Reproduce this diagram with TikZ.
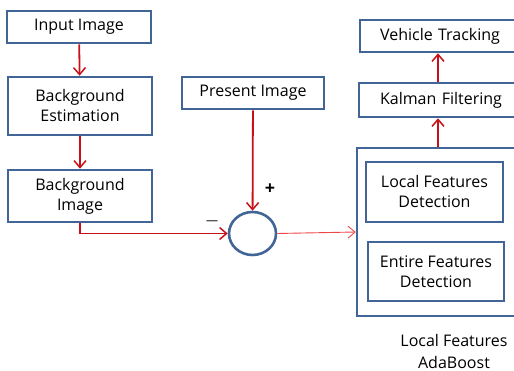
\documentclass[tikz,border=0pt]{standalone}
\usepackage{fontspec}
\setmainfont{Open Sans}
\usetikzlibrary{arrows.meta,shapes.geometric}
\definecolor{boxblue}{RGB}{65,101,150}
\definecolor{flowred}{RGB}{200,16,24}
\definecolor{thinred}{RGB}{240,70,70}
\tikzset{
	block/.style={draw=boxblue, line width=2.6pt, rectangle, align=center, font=\fontsize{16}{20}\selectfont},
	flow/.style={draw=flowred, line width=1.8pt, -{Straight Barb[length=7pt,width=12pt,line width=1.5pt]}},
}

\begin{document}
\begin{tikzpicture}[x=1pt,y=-1pt]
		\useasboundingbox (0,0) rectangle (514,371);
		\clip (0,0) rectangle (514,371);
		\node[block, minimum width=144pt, minimum height=32pt] (input) at (79,27) {Input Image};
		\node[block, minimum width=144pt, minimum height=58pt] (bgest) at (80,106) {Background\\Estimation};
		\node[block, minimum width=144pt, minimum height=52pt] (bgimg) at (80,196) {Background\\Image};
		\node[block, minimum width=142pt, minimum height=32pt] (present) at (253,93) {Present Image};
		\node[ellipse, draw=boxblue, line width=2.6pt, minimum width=47pt, minimum height=43pt] (sum) at (252.5,233.5) {};
		\node (plus) at (270,189) {\fontsize{18}{18}\selectfont\textbf{+}};
		\node (minus) at (212,223) {\fontsize{12}{12}\selectfont —};
		
		\node[block, minimum width=160pt, minimum height=32pt, text width=150pt] (vehicle) at (440,36) {Vehicle Tracking};
		\node[block, minimum width=164pt, minimum height=34pt, text width=150pt] (kalman) at (441,100) {Kalman Filtering};
		\node[draw=boxblue, line width=2.6pt, minimum width=162pt, minimum height=168pt] (adaboost) at (438,232) {};
		\node[block, minimum width=137pt, minimum height=60pt] (local) at (434.5,192) {Local Features\\Detection};
		\node[block, minimum width=136pt, minimum height=59pt] (entire) at (436,271.5) {Entire Features\\Detection};
		\node[align=center, font=\fontsize{16}{22}\selectfont] (caption) at (454,351) {Local Features\\AdaBoost};
		
		\draw[flow] (input) -- (bgest);
		\draw[flow] (bgest) -- (bgimg);
		\draw[flow] (bgimg.south) |- (sum.west);
		\draw[flow] (present) -- (sum);
		\draw[draw=thinred, line width=0.9pt, -{Straight Barb[length=7pt,width=12pt,line width=0.9pt]}] (sum.east) -- (adaboost.west);
		\draw[flow] (adaboost.north) -- (adaboost.north |- kalman.south);
		\draw[flow] (kalman.north -| adaboost.north) -- (adaboost.north |- vehicle.south);
		\end{tikzpicture}
\end{document}
